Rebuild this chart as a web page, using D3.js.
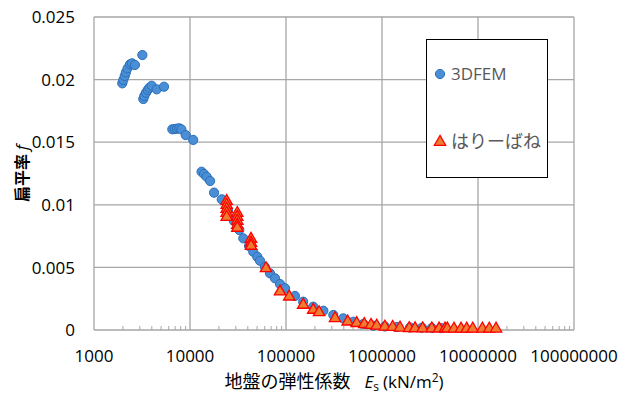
<!DOCTYPE html>
<html>
<head>
<meta charset="utf-8">
<script src="https://cdn.jsdelivr.net/npm/d3@7"></script>
<style>
  body { margin: 0; background: #fff; }
  svg { display: block; }
  .tick-label { font-family: "Open Sans", "Liberation Sans", sans-serif; font-size: 17px; fill: #000; }
  .cjk { font-family: "Noto Sans CJK JP", sans-serif; }
</style>
</head>
<body>
<div id="chart"></div>
<script>
// ---- Data (E_s in kN/m2, flattening f)
const femE = [1970, 2020, 2090, 2150, 2240, 2370, 2490, 2670, 3190,
  3260, 3340, 3480, 3630, 3770, 3990, 4500, 5360,
  6540, 6930, 7320, 7730, 8120, 9020, 10800,
  13200, 14000, 14900, 16200, 17800, 21400, 24900, 28700,
  32600, 35900, 41200, 45600, 50200, 53600,
  60400, 68100, 76800, 86600, 97700,
  124000, 151000, 192000, 245000, 311000, 395000, 502000, 639000, 812000,
  1070000, 1430000, 1960000, 2610000, 3310000, 4120000];
const femF = [0.0197, 0.01997, 0.02029, 0.02058, 0.0209, 0.02122, 0.0213, 0.02117, 0.02196,
  0.01845, 0.01869, 0.01895, 0.01917, 0.01935, 0.01951, 0.01922, 0.01943,
  0.01603, 0.01605, 0.01608, 0.01611, 0.01603, 0.01557, 0.01518,
  0.01264, 0.01246, 0.01224, 0.0119, 0.01097, 0.01044, 0.00958, 0.00871,
  0.00799, 0.00732, 0.00671, 0.00625, 0.00585, 0.00553,
  0.00503, 0.00453, 0.00413, 0.00367, 0.00333,
  0.00272, 0.00226, 0.00186, 0.00154, 0.0012, 0.00093, 0.00066, 0.00048, 0.00034,
  0.00028, 0.00024, 0.0002, 0.00018, 0.00016, 0.00015];

const springE = [24100, 24100, 24100, 24100, 24100,
  31100, 31100, 31100, 31100, 31100,
  43200, 43200, 43200,
  61900, 86600, 108000, 151000, 192000, 221000,
  324000, 439000, 545000, 654000, 768000, 880000,
  1070000, 1290000, 1540000, 1920000, 2210000, 2650000, 3300000, 3930000, 4530000, 4790000,
  5620000, 6650000, 7620000, 8810000, 11100000, 13100000, 15400000];
const springF = [0.0103, 0.00998, 0.00966, 0.00934, 0.00902,
  0.00934, 0.00903, 0.00871, 0.00839, 0.00815,
  0.00727, 0.00695, 0.00671,
  0.00493, 0.00306, 0.00266, 0.002, 0.0016, 0.00141,
  0.00093, 0.00066, 0.00054, 0.00046, 0.0004, 0.00034,
  0.00026, 0.00024, 0.00018, 0.00014, 0.00013, 0.00012, 0.00012, 0.00011, 0.00011, 0.00011,
  0.0001, 0.0001, 0.0001, 0.0001, 0.0001, 0.0001, 0.0001];

const xTicks = [1e3, 1e4, 1e5, 1e6, 1e7, 1e8];
const yTicks = [0, 0.005, 0.01, 0.015, 0.02, 0.025];
const seriesNames = ['3DFEM', 'はりーばね'];

// ---- Layout
const W = 630, H = 397;
const margin = { left: 94, right: 56, top: 17, bottom: 67 };

const svg = d3.select('#chart').append('svg').attr('width', W).attr('height', H);

const x = d3.scaleLog().domain([1e3, 1e8]).range([margin.left, W - margin.right]);
const y = d3.scaleLinear().domain([0, 0.025]).range([H - margin.bottom, margin.top]);

const gridColor = '#a6a6a6';

// ---- Grid
svg.append('g').selectAll('line').data(yTicks).join('line')
  .attr('x1', x(1e3)).attr('x2', x(1e8))
  .attr('y1', d => y(d)).attr('y2', d => y(d))
  .attr('stroke', gridColor).attr('stroke-width', 1.3);
svg.append('g').selectAll('line').data(xTicks).join('line')
  .attr('x1', d => x(d)).attr('x2', d => x(d))
  .attr('y1', y(0)).attr('y2', y(0.025))
  .attr('stroke', gridColor).attr('stroke-width', 1.3);

// ---- Minor ticks on the log axis (pointing up)
const minor = [];
xTicks.slice(0, -1).forEach(d => { for (let k = 2; k <= 9; k++) minor.push(d * k); });
svg.append('g').selectAll('line').data(minor).join('line')
  .attr('x1', d => x(d)).attr('x2', d => x(d))
  .attr('y1', y(0)).attr('y2', y(0) - 4)
  .attr('stroke', gridColor).attr('stroke-width', 1);

// ---- Tick labels
svg.append('g').selectAll('text').data(xTicks).join('text')
  .attr('class', 'tick-label')
  .attr('x', d => x(d)).attr('y', 362)
  .attr('text-anchor', 'middle')
  .text(d => d3.format('d')(d));
svg.append('g').selectAll('text').data(yTicks).join('text')
  .attr('class', 'tick-label')
  .attr('x', 75).attr('y', d => y(d)).attr('dy', '0.36em')
  .attr('text-anchor', 'end')
  .text(d => String(d));

// ---- Axis titles
const xt = svg.append('text')
  .attr('x', (x(1e3) + x(1e8)) / 2).attr('y', 388)
  .attr('text-anchor', 'middle').style('fill', '#000');
xt.append('tspan').attr('class', 'cjk').style('font-size', '18px').text('地盤の弾性係数');
xt.append('tspan').attr('dx', 14).style('font-family', '"Open Sans", sans-serif')
  .style('font-size', '17px').style('font-style', 'italic').text('E');
xt.append('tspan').attr('dy', 3).style('font-family', '"Open Sans", sans-serif')
  .style('font-size', '12px').text('s');
xt.append('tspan').attr('dy', -3).attr('dx', 4).style('font-family', '"Open Sans", sans-serif')
  .style('font-size', '17px').text('(kN/m');
xt.append('tspan').attr('dy', -6).style('font-family', '"Open Sans", sans-serif')
  .style('font-size', '12px').text('2');
xt.append('tspan').attr('dy', 6).style('font-family', '"Open Sans", sans-serif')
  .style('font-size', '17px').text(')');

const yt = svg.append('text')
  .attr('transform', `translate(22, ${(y(0) + y(0.025)) / 2}) rotate(-90)`)
  .attr('text-anchor', 'middle').attr('dy', '0.35em').style('fill', '#000');
yt.append('tspan').attr('class', 'cjk').style('font-size', '16px').style('font-weight', 'bold').text('扁平率 ');
yt.append('tspan').style('font-family', '"Open Sans", sans-serif')
  .style('font-size', '17px').style('font-style', 'italic').text('f');

// ---- Marks
const blueFill = '#4a8fd6', blueStroke = '#2b6fba';
const triFill = '#ed7d31', triStroke = '#ff0000';
const tri = d3.symbol(d3.symbolTriangle, 56);

svg.append('g').selectAll('circle').data(d3.range(femE.length)).join('circle')
  .attr('cx', i => x(femE[i])).attr('cy', i => y(femF[i]))
  .attr('r', 4.6)
  .attr('fill', blueFill).attr('stroke', blueStroke).attr('stroke-width', 1);

svg.append('g').selectAll('path').data(d3.range(springE.length)).join('path')
  .attr('d', tri)
  .attr('transform', i => `translate(${x(springE[i])}, ${y(springF[i])})`)
  .attr('fill', triFill).attr('stroke', triStroke).attr('stroke-width', 1.3);

// ---- Legend
const lg = svg.append('g');
lg.append('rect').attr('x', 426.5).attr('y', 39.5).attr('width', 121).attr('height', 138)
  .attr('fill', '#fff').attr('stroke', '#000').attr('stroke-width', 1);
lg.append('circle').attr('cx', 440).attr('cy', 74).attr('r', 4.6)
  .attr('fill', blueFill).attr('stroke', blueStroke);
lg.append('path').attr('d', tri).attr('transform', 'translate(440, 142)')
  .attr('fill', triFill).attr('stroke', triStroke).attr('stroke-width', 1.3);
lg.append('text').attr('x', 451).attr('y', 74).attr('dy', '0.36em')
  .style('font-family', '"Open Sans", sans-serif').style('font-size', '17px').style('fill', '#595959')
  .text(seriesNames[0]);
lg.append('text').attr('x', 451).attr('y', 142).attr('dy', '0.36em')
  .attr('class', 'cjk').style('font-size', '18px').style('fill', '#595959')
  .text(seriesNames[1]);
</script>
</body>
</html>
